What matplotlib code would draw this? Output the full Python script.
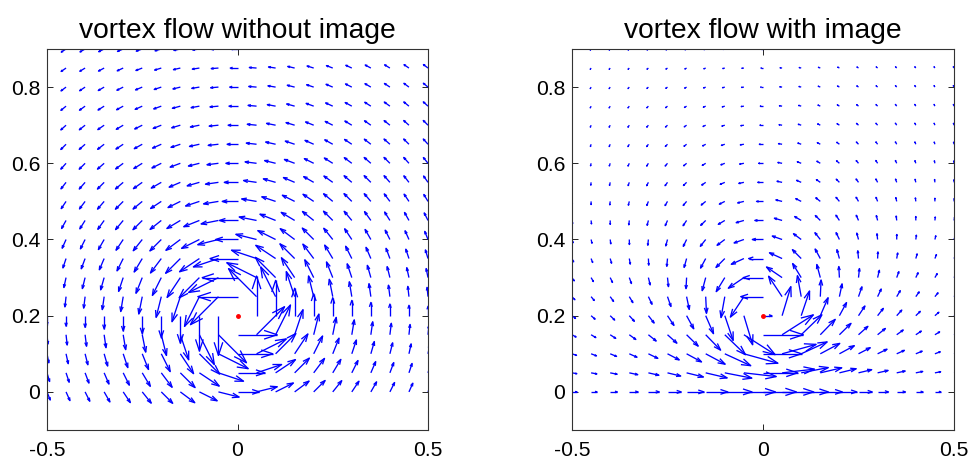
import numpy as np
import matplotlib
matplotlib.use("Agg")
import matplotlib.pyplot as plt
from matplotlib.collections import LineCollection

plt.rcParams['font.family'] = ['Liberation Sans', 'DejaVu Sans']

# grid of sample points (same for both panels)
x_grid = [-0.5, -0.45, -0.4, -0.35, -0.3, -0.25, -0.2, -0.15, -0.1, -0.05, 0.0,
          0.05, 0.1, 0.15, 0.2, 0.25, 0.3, 0.35, 0.4, 0.45, 0.5]
y_grid = [0.0, 0.05, 0.1, 0.15, 0.2, 0.25, 0.3, 0.35, 0.4, 0.45,
          0.5, 0.55, 0.6, 0.65, 0.7, 0.75, 0.8, 0.85, 0.9]

# vortex (position, strength, core)
vortex_x, vortex_y = 0.0, 0.2
strength = 0.0125
core_sq = 0.0035
# image vortex below the wall y=0, opposite sign
image_x, image_y = 0.0, -0.2
arrow_scale = [1.0, 0.76]

titles = ['vortex flow without image', 'vortex flow with image']
x_ticks = [-0.5, 0, 0.5]
y_ticks = [0, 0.2, 0.4, 0.6, 0.8]


def vortex_velocity(X, Y, x0, y0, k):
    dx = X - x0
    dy = Y - y0
    r2 = dx**2 + dy**2 + core_sq
    return -k * dy / r2, k * dx / r2


def matlab_quiver(ax, X, Y, U, V, color='b'):
    # open-headed arrows like MATLAB's quiver
    alpha, beta = 0.33, 0.33
    X, Y, U, V = X.ravel(), Y.ravel(), U.ravel(), V.ravel()
    segs = []
    for x, y, u, v in zip(X, Y, U, V):
        if u == 0 and v == 0:
            continue
        tx, ty = x + u, y + v
        segs.append([(x, y), (tx, ty)])
        segs.append([(tx - alpha * (u + beta * v), ty - alpha * (v - beta * u)),
                     (tx, ty),
                     (tx - alpha * (u - beta * v), ty - alpha * (v + beta * u))])
    lc = LineCollection(segs, colors=color, linewidths=0.95)
    ax.add_collection(lc)


X, Y = np.meshgrid(x_grid, y_grid)

fig = plt.figure(figsize=(9.74, 4.66), dpi=100)
positions = [[47 / 974, 36 / 466, 381 / 974, 381 / 466],
             [572 / 974, 36 / 466, 382 / 974, 381 / 466]]

for i in range(2):
    ax = fig.add_axes(positions[i])
    U, V = vortex_velocity(X, Y, vortex_x, vortex_y, strength)
    if i == 1:
        Ui, Vi = vortex_velocity(X, Y, image_x, image_y, -strength)
        U, V = U + Ui, V + Vi
    matlab_quiver(ax, X, Y, U * arrow_scale[i], V * arrow_scale[i])
    ax.plot(vortex_x, vortex_y, 'r.', markersize=5)
    ax.set_xlim(-0.5, 0.5)
    ax.set_ylim(-0.1, 0.9)
    ax.set_xticks(x_ticks)
    ax.set_xticklabels(['-0.5', '0', '0.5'])
    ax.set_yticks(y_ticks)
    ax.set_yticklabels(['0', '0.2', '0.4', '0.6', '0.8'])
    ax.tick_params(direction='in', length=4, width=0.6, labelsize=15.2,
                   top=True, right=True)
    ax.tick_params(axis='x', pad=8)
    ax.tick_params(axis='y', pad=5)
    for s in ax.spines.values():
        s.set_linewidth(0.8)
        s.set_color('#333333')
    ax.set_title(titles[i], fontsize=20.3, pad=8)

fig.savefig('out.png', dpi=100)
